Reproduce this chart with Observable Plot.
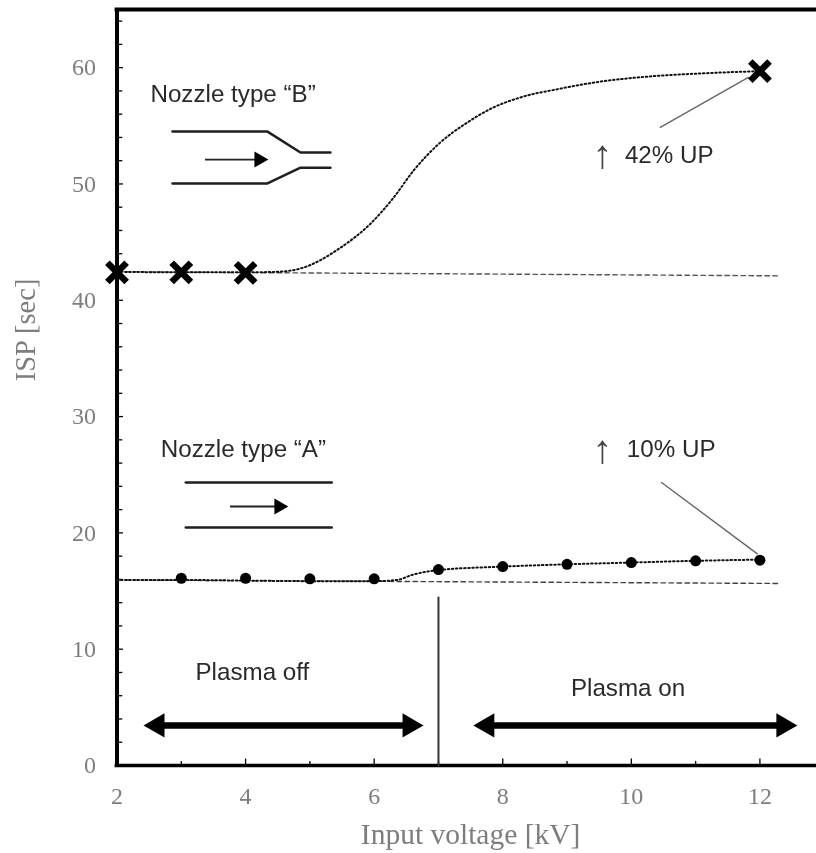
<!DOCTYPE html>
<html>
<head>
<meta charset="utf-8">
<script src="https://cdn.jsdelivr.net/npm/d3@7"></script>
<script src="https://cdn.jsdelivr.net/npm/@observablehq/plot@0.6"></script>
<style>
html,body{margin:0;padding:0;background:#fff}
svg{display:block;filter:blur(0.45px)}
</style>
</head>
<body>
<div id="chart"></div>
<script>
// measured points
const nozzleBVoltage = [2, 3, 4, 12];
const nozzleBIsp = [42.4, 42.4, 42.35, 59.7];
const nozzleAVoltage = [3, 4, 5, 6, 7, 8, 9, 10, 11, 12];
const nozzleAIsp = [16.1, 16.1, 16.05, 16.05, 16.85, 17.1, 17.3, 17.45, 17.6, 17.65];

// trend curves (dotted)
const curveBVoltage = [2, 3, 4, 4.5, 4.854, 5.476, 5.942, 6.3, 6.61, 7.03, 7.45, 7.855, 8.275, 8.9, 9.52, 10.3, 11.07, 12];
const curveBIsp = [42.45, 42.4, 42.4, 42.45, 42.73, 44.52, 46.58, 48.81, 51.13, 53.57, 55.29, 56.58, 57.44, 58.2, 58.8, 59.25, 59.5, 59.7];
const curveAVoltage = [2, 3, 4, 5, 6, 6.35, 6.6, 7, 8, 9, 10, 11, 12];
const curveAIsp = [15.95, 15.95, 15.9, 15.85, 15.85, 15.95, 16.4, 16.8, 17.1, 17.3, 17.45, 17.6, 17.7];

// baselines (dashed)
const baseVoltage = [2, 12.32];
const baseB = [42.45, 42.1];
const baseA = [15.95, 15.65];

// axis values
const xLabelTicks = [2, 4, 6, 8, 10, 12];
const xOddTicks = [3, 5, 7, 9, 11];
const yLabelTicks = [0, 10, 20, 30, 40, 50, 60];
const yMinorTicks = [2, 4, 6, 8, 12, 14, 16, 18, 22, 24, 26, 28, 32, 34, 36, 38, 42, 44, 46, 48, 52, 54, 56, 58, 62, 64];

// annotation geometry, in axis units
const nozzleBTop = [[2.863, 54.5], [4.341, 54.5], [4.854, 52.7], [5.32, 52.7]];
const nozzleBBottom = [[2.863, 50.04], [4.341, 50.04], [4.854, 51.4], [5.32, 51.4]];
const nozzleATop = [[3.07, 24.33], [5.34, 24.33]];
const nozzleABottom = [[3.07, 20.46], [5.34, 20.46]];
const leaderB = [[10.45, 54.86], [11.82, 59.16]];
const leaderA = [[10.47, 24.33], [11.96, 18.2]];
const switchLine = [[7, 0], [7, 14.45]];
const flowArrows = [[3.376, 4.21, 52.1], [3.765, 4.52, 22.27]];
const plasmaArrows = [[2.63, 6.55, 3.44], [7.76, 12.365, 3.44]];
const flowHeads = [[4.21, 52.1], [4.52, 22.27]];
const headsRight = [[6.55, 3.44], [12.365, 3.44]];
const headsLeft = [[2.63, 3.44], [7.76, 3.44]];

const sansLabels = ["Nozzle type \u201CB\u201D", "Nozzle type \u201CA\u201D", "42% UP", "10% UP", "Plasma off", "Plasma on"];
const sansX = [2.52, 2.68, 9.9, 9.93, 3.22, 9.06];
const sansY = [57.7, 27.2, 52.45, 27.2, 8.05, 6.65];
const upArrowX = [9.55, 9.55];
const upArrowY = [52.45, 27.15];

const xyTable = (xs, ys) => xs.map((x, i) => ({x, y: ys[i]}));
const pairs = (rows) => rows.map(([x, y]) => ({x, y}));
const axisInk = "#000";
const serif = "Liberation Serif";
const sans = "Liberation Sans";

const solid = (rows, strokeWidth, stroke = "#1f1f1f") =>
  Plot.line(pairs(rows), {x: "x", y: "y", stroke, strokeWidth, strokeLinejoin: "round"});

const chart = Plot.plot({
  width: 816,
  height: 853,
  marginLeft: 116.5,
  marginRight: 0,
  marginTop: 9,
  marginBottom: 88,
  x: {domain: [2, 12.88], label: null},
  y: {domain: [0, 65], label: null},
  style: {background: "#fff"},
  marks: [
    // axes
    Plot.axisX(xLabelTicks, {tickSize: 0, tickPadding: 21, fontSize: 24, fontFamily: serif, color: "#7d7d7d", stroke: "none", label: null}),
    Plot.axisY(yLabelTicks, {tickSize: 0, tickPadding: 21, fontSize: 24, fontFamily: serif, color: "#7d7d7d", stroke: "none", label: null}),
    Plot.ruleX(xLabelTicks, {y1: 0, y2: 0.55, stroke: axisInk, strokeWidth: 1.3}),
    Plot.ruleX(xOddTicks, {y1: 0, y2: 0.35, stroke: axisInk, strokeWidth: 1.3}),
    Plot.ruleY(yLabelTicks, {x1: 2, x2: 2.1, stroke: axisInk, strokeWidth: 1.3}),
    Plot.ruleY(yMinorTicks, {x1: 2, x2: 2.09, stroke: axisInk, strokeWidth: 1.3}),
    Plot.ruleX([2], {y1: 0, y2: 65, stroke: axisInk, strokeWidth: 4}),
    Plot.ruleY([0], {x1: 1.97, x2: 12.88, stroke: axisInk, strokeWidth: 3.6}),
    Plot.ruleY([65], {x1: 1.97, x2: 12.88, stroke: axisInk, strokeWidth: 4}),
    Plot.text(["Input voltage [kV]"], {x: 7.5, y: -5.9, fontFamily: serif, fontSize: 29.5, fill: "#7d7d7d"}),
    Plot.text(["ISP [sec]"], {x: 0.58, y: 37.45, rotate: -90, fontFamily: serif, fontSize: 28.5, fill: "#7d7d7d"}),

    // baselines
    Plot.line(xyTable(baseVoltage, baseB), {x: "x", y: "y", stroke: "#555", strokeWidth: 1.4, strokeDasharray: "4.5 3.5"}),
    Plot.line(xyTable(baseVoltage, baseA), {x: "x", y: "y", stroke: "#444", strokeWidth: 1.4, strokeDasharray: "4.5 3.5"}),

    // curves
    Plot.line(xyTable(curveBVoltage, curveBIsp), {x: "x", y: "y", curve: "monotone-x", stroke: "#111", strokeWidth: 2, strokeDasharray: "1.5 2.6"}),
    Plot.line(xyTable(curveAVoltage, curveAIsp), {x: "x", y: "y", curve: "monotone-x", stroke: "#111", strokeWidth: 2, strokeDasharray: "1.5 2.6"}),

    // switching line, leaders, nozzle drawings
    solid(switchLine, 2, "#333"),
    solid(leaderB, 1.4, "#666"),
    solid(leaderA, 1.4, "#666"),
    solid(nozzleBTop, 2.5),
    solid(nozzleBBottom, 2.5),
    solid(nozzleATop, 2.5),
    solid(nozzleABottom, 2.5),

    // flow and plasma arrows
    Plot.ruleY(flowArrows, {x1: d => d[0], x2: d => d[1], y: d => d[2], stroke: "#222", strokeWidth: 1.8}),
    Plot.ruleY(plasmaArrows, {x1: d => d[0], x2: d => d[1], y: d => d[2], stroke: "#000", strokeWidth: 6.5}),
    Plot.dot(flowHeads, {x: d => d[0], y: d => d[1], symbol: "triangle", r: 6, rotate: 90, fill: "#000", stroke: "none"}),
    Plot.dot(headsRight, {x: d => d[0], y: d => d[1], symbol: "triangle", r: 9, rotate: 90, fill: "#000", stroke: "none"}),
    Plot.dot(headsLeft, {x: d => d[0], y: d => d[1], symbol: "triangle", r: 9, rotate: -90, fill: "#000", stroke: "none"}),

    // data
    Plot.dot(xyTable(nozzleAVoltage, nozzleAIsp), {x: "x", y: "y", r: 5.5, fill: "#000", stroke: "none"}),
    Plot.dot(xyTable(nozzleBVoltage, nozzleBIsp), {x: "x", y: "y", symbol: "times", r: 8.8, stroke: "#000", strokeWidth: 6.5, fill: "none"}),

    // text
    Plot.text(sansLabels, {x: (d, i) => sansX[i], y: (d, i) => sansY[i], textAnchor: "start", fontFamily: sans, fontSize: 24.2, fill: "#2a2a2a", stroke: "none"}),
    Plot.text(["\u2191", "\u2191"], {x: (d, i) => upArrowX[i], y: (d, i) => upArrowY[i], fontFamily: sans, fontSize: 40, fill: "#444"})
  ]
});
document.getElementById("chart").appendChild(chart);
</script>
</body>
</html>
